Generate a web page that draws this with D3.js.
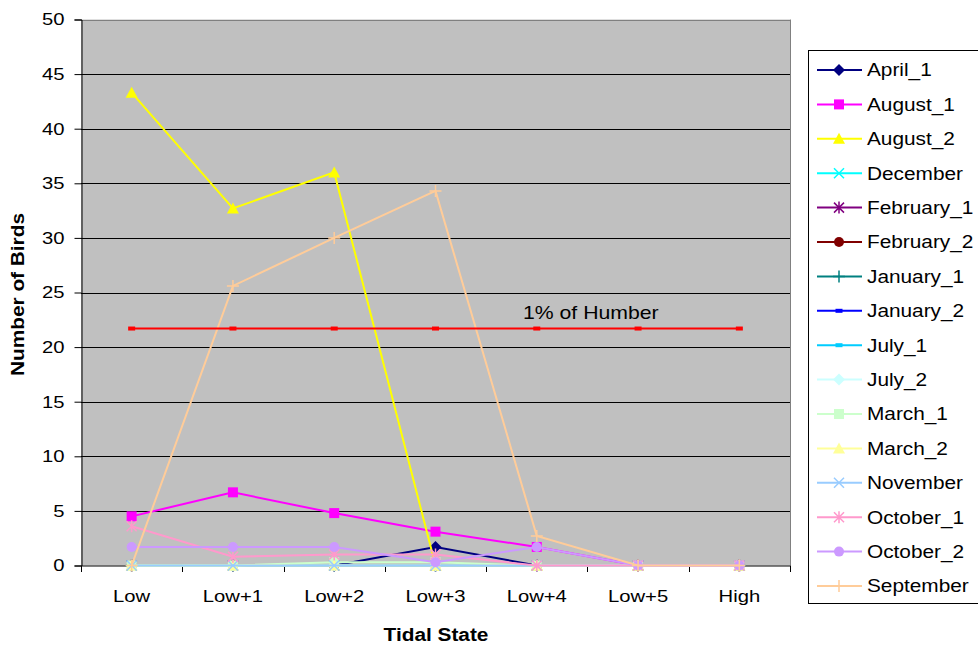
<!DOCTYPE html>
<html>
<head>
<meta charset="utf-8">
<script src="https://cdn.jsdelivr.net/npm/d3@7"></script>
<style>
  html, body { margin: 0; padding: 0; background: #fff; }
  svg { display: block; font-family: "Liberation Sans", Arial, sans-serif; }
</style>
</head>
<body>
<svg id="chart" width="978" height="648"></svg>
<script>
// Tidal states along the x axis
const categories = ["Low", "Low+1", "Low+2", "Low+3", "Low+4", "Low+5", "High"];
const yTicks = [0, 5, 10, 15, 20, 25, 30, 35, 40, 45, 50];

// Bird counts per survey, one value per tidal state
const april1     = [0, 0, 0, 1.7, 0, 0, 0];
const august1    = [4.5, 6.7, 4.8, 3.1, 1.7, 0, 0];
const august2    = [43.3, 32.7, 36.0, 0, 0, 0, 0];
const december   = [0, 0, 0, 0, 0, 0, 0];
const february1  = [0, 0, 0, 0, 0, 0, 0];
const february2  = [0, 0, 0, 0, 0, 0, 0];
const january1   = [0, 0, 0, 0, 0, 0, 0];
const january2   = [0, 0, 0, 0, 0, 0, 0];
const july1      = [0, 0, 0, 0, 0, 0, 0];
const july2      = [0, 0, 0, 0, 0, 0, 0];
const march1     = [0, 0, 0.3, 0.3, 0, 0, 0];
const march2     = [0, 0, 0, 0, 0, 0, 0];
const november   = [0, 0, 0, 0, 0, 0, 0];
const october1   = [3.6, 0.8, 1.0, 1.0, 0, 0, 0];
const october2   = [1.7, 1.7, 1.7, 0.3, 1.7, 0, 0];
const september  = [0, 25.6, 30.0, 34.3, 2.7, 0, 0];

// Threshold line: 1% of the Humber population
const humberLabel = "1% of Humber";
const humber = [21.7, 21.7, 21.7, 21.7, 21.7, 21.7, 21.7];

const seriesNames  = ["April_1", "August_1", "August_2", "December", "February_1", "February_2",
                      "January_1", "January_2", "July_1", "July_2", "March_1", "March_2",
                      "November", "October_1", "October_2", "September"];
const seriesValues = [april1, august1, august2, december, february1, february2,
                      january1, january2, july1, july2, march1, march2,
                      november, october1, october2, september];
const seriesColors = ["#000080", "#FF00FF", "#FFFF00", "#00FFFF", "#800080", "#800000",
                      "#008080", "#0000FF", "#00CCFF", "#CCFFFF", "#CCFFCC", "#FFFF99",
                      "#99CCFF", "#FF99CC", "#CC99FF", "#FFCC99"];
const seriesMarkers = ["diamond", "square", "triangle", "x", "star", "circle",
                       "plus", "dash", "dash", "diamond", "square", "triangle",
                       "x", "star", "circle", "plus"];

const svg = d3.select("#chart");
const plot = { left: 81, right: 790, top: 19.5, bottom: 565.5 };
const WIDE = 1.19; // horizontal widening applied to all chart text

const x = d3.scaleBand().domain(categories).range([plot.left, plot.right]).padding(0);
const y = d3.scaleLinear().domain([0, 50]).range([plot.bottom, plot.top]);
const cx = c => x(c) + x.bandwidth() / 2;

// Widen text horizontally around its anchor point
function widen(sel, k) {
  sel.each(function () {
    const ax = +(this.getAttribute("x") || 0);
    const prev = this.getAttribute("transform") || "";
    this.setAttribute("transform", `${prev} translate(${ax},0) scale(${k},1) translate(${-ax},0)`);
  });
}

// Plot background
svg.append("rect")
  .attr("x", plot.left).attr("y", plot.top)
  .attr("width", plot.right - plot.left).attr("height", plot.bottom - plot.top)
  .attr("fill", "#C0C0C0");

// Horizontal gridlines
svg.append("g").selectAll("line").data(yTicks.filter(t => t > 0)).join("line")
  .attr("x1", plot.left).attr("x2", plot.right)
  .attr("y1", d => Math.round(y(d)) + 0.5).attr("y2", d => Math.round(y(d)) + 0.5)
  .attr("stroke", d => d === 50 ? "#808080" : "#000").attr("stroke-width", 1);

// Right border of the plot area
svg.append("line")
  .attr("x1", plot.right + 0.5).attr("x2", plot.right + 0.5)
  .attr("y1", plot.top).attr("y2", plot.bottom)
  .attr("stroke", "#808080");

// Y axis
const yAxis = d3.axisLeft(y).tickValues(yTicks).tickSize(7).tickPadding(10);
const gy = svg.append("g").attr("transform", `translate(${plot.left + 0.5},0)`).call(yAxis);
gy.select(".domain").attr("stroke", "#000");
gy.selectAll(".tick line").attr("stroke", "#000");
gy.selectAll(".tick text").attr("font-size", 17).attr("fill", "#000")
  .attr("font-family", "Liberation Sans, Arial, sans-serif")
  .call(widen, WIDE);

// X axis with ticks between categories
const gx = svg.append("g").attr("transform", `translate(0,${plot.bottom + 0.5})`);
gx.append("line").attr("x1", plot.left).attr("x2", plot.right + 1)
  .attr("stroke", "#000");
const bounds = categories.map(c => x(c)).concat([plot.right]);
gx.selectAll("line.tk").data(bounds).join("line").attr("class", "tk")
  .attr("x1", d => Math.round(d) + 0.5).attr("x2", d => Math.round(d) + 0.5)
  .attr("y1", 0).attr("y2", 6).attr("stroke", "#000");
gx.selectAll("text").data(categories).join("text")
  .attr("x", d => cx(d)).attr("y", 36)
  .attr("text-anchor", "middle").attr("font-size", 17).attr("fill", "#000")
  .text(d => d)
  .call(widen, WIDE);

// Axis titles
svg.append("text")
  .attr("transform", `translate(24,${(plot.top + plot.bottom) / 2 + 2}) rotate(-90)`)
  .attr("text-anchor", "middle").attr("font-size", 17.5).attr("font-weight", "bold")
  .text("Number of Birds")
  .call(widen, WIDE);
svg.append("text")
  .attr("x", 436).attr("y", 641)
  .attr("text-anchor", "middle").attr("font-size", 17.5).attr("font-weight", "bold")
  .text("Tidal State")
  .call(widen, WIDE);

// Marker drawing
function drawMarker(g, type, color, px, py) {
  const s = 5;
  switch (type) {
    case "diamond":
      g.append("path").attr("d", `M${px},${py - s - 1}L${px + s + 1},${py}L${px},${py + s + 1}L${px - s - 1},${py}Z`)
        .attr("fill", color); break;
    case "square":
      g.append("rect").attr("x", px - s).attr("y", py - s).attr("width", 2 * s).attr("height", 2 * s)
        .attr("fill", color); break;
    case "triangle":
      g.append("path").attr("d", `M${px},${py - s - 1}L${px + s + 1},${py + s}L${px - s - 1},${py + s}Z`)
        .attr("fill", color); break;
    case "circle":
      g.append("circle").attr("cx", px).attr("cy", py).attr("r", s).attr("fill", color); break;
    case "x":
      g.append("path").attr("d", `M${px - s},${py - s}L${px + s},${py + s}M${px - s},${py + s}L${px + s},${py - s}`)
        .attr("stroke", color).attr("stroke-width", 1.5).attr("fill", "none"); break;
    case "star":
      g.append("path").attr("d", `M${px - s},${py - s}L${px + s},${py + s}M${px - s},${py + s}L${px + s},${py - s}M${px},${py - s - 1}L${px},${py + s + 1}`)
        .attr("stroke", color).attr("stroke-width", 1.5).attr("fill", "none"); break;
    case "plus":
      g.append("path").attr("d", `M${px - s - 1},${py}L${px + s + 1},${py}M${px},${py - s - 1}L${px},${py + s + 1}`)
        .attr("stroke", color).attr("stroke-width", 1.5).attr("fill", "none"); break;
    case "dash":
      g.append("rect").attr("x", px - 3.5).attr("y", py - 2).attr("width", 7).attr("height", 4)
        .attr("fill", color); break;
  }
}

const line = d3.line().x((d, i) => cx(categories[i])).y(d => y(d));

// Survey series, drawn in legend order
const series = svg.append("g");
seriesValues.forEach((vals, k) => {
  const g = series.append("g");
  g.append("path").datum(vals).attr("d", line)
    .attr("fill", "none").attr("stroke", seriesColors[k]).attr("stroke-width", 2);
  vals.forEach((v, i) => drawMarker(g, seriesMarkers[k], seriesColors[k], cx(categories[i]), y(v)));
});

// Threshold line
const hg = svg.append("g");
hg.append("path").datum(humber).attr("d", line)
  .attr("fill", "none").attr("stroke", "#FF0000").attr("stroke-width", 2);
humber.forEach((v, i) => drawMarker(hg, "dash", "#FF0000", cx(categories[i]), y(v)));
hg.append("text").attr("x", 523).attr("y", y(humber[4]) - 10)
  .attr("font-size", 18).attr("fill", "#000").text(humberLabel)
  .call(widen, 1.18);

// Legend
const legend = svg.append("g");
const lgTop = 50, lgStep = 34.4;
legend.append("rect").attr("x", 808.5).attr("y", lgTop + 0.5)
  .attr("width", 175).attr("height", 553)
  .attr("fill", "#fff").attr("stroke", "#000");
seriesNames.forEach((name, k) => {
  const ly = lgTop + 20 + k * lgStep;
  const g = legend.append("g");
  g.append("line").attr("x1", 817).attr("x2", 862).attr("y1", ly).attr("y2", ly)
    .attr("stroke", seriesColors[k]).attr("stroke-width", 2);
  drawMarker(g, seriesMarkers[k], seriesColors[k], 839, ly);
  g.append("text").attr("x", 867).attr("y", ly + 6.5).attr("font-size", 17.5).attr("fill", "#000").text(name)
    .call(widen, WIDE);
});
</script>
</body>
</html>
